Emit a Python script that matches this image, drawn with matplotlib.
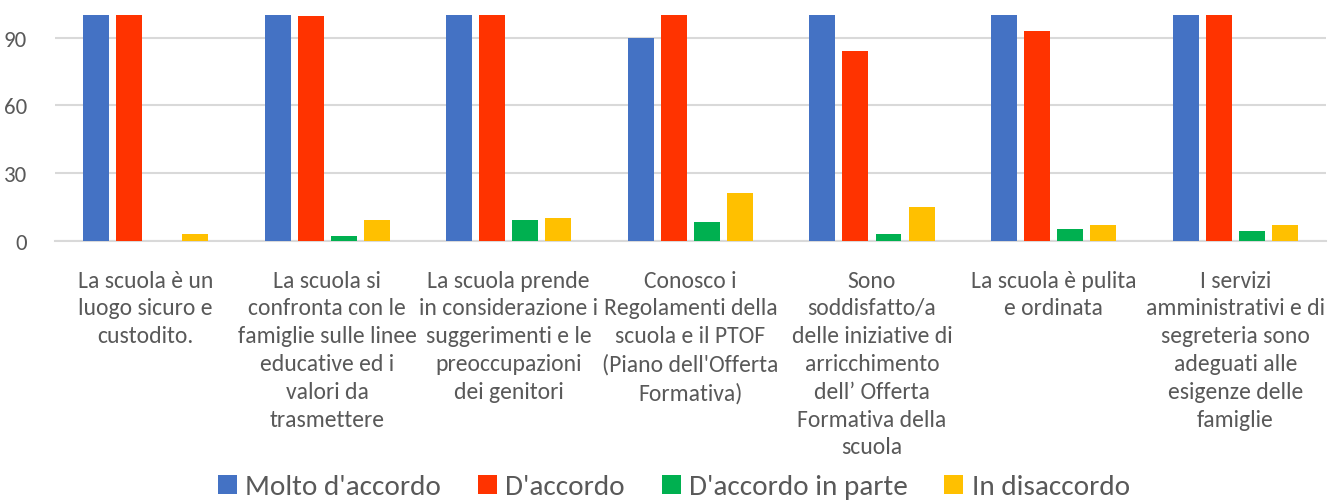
import matplotlib
matplotlib.use("Agg")
import matplotlib.pyplot as plt
import numpy as np
from matplotlib import font_manager

names = {f.name for f in font_manager.fontManager.ttflist}
FONT = "Carlito" if "Carlito" in names else "Lato"
plt.rcParams['font.family'] = [FONT, 'DejaVu Sans']

categories = [
    "La scuola è un\nluogo sicuro e\ncustodito.",
    "La scuola si\nconfronta con le\nfamiglie sulle linee\neducative ed i\nvalori da\ntrasmettere",
    "La scuola prende\nin considerazione i\nsuggerimenti e le\npreoccupazioni\ndei genitori",
    "Conosco i\nRegolamenti della\nscuola e il PTOF\n(Piano dell'Offerta\nFormativa)",
    "Sono\nsoddisfatto/a\ndelle iniziative di\narricchimento\ndell’ Offerta\nFormativa della\nscuola",
    "La scuola è pulita\ne ordinata",
    "I servizi\namministrativi e di\nsegreteria sono\nadeguati alle\nesigenze delle\nfamiglie",
]
series_names = ["Molto d'accordo", "D'accordo", "D'accordo in parte", "In disaccordo"]
molto = [100, 100, 100, 90, 100, 100, 100]
accordo = [100, 99.6, 100, 100, 84, 93, 100]
parte = [0, 2, 9, 8, 3, 5, 4]
disaccordo = [3, 9, 10, 21, 15, 7, 7]
series = [molto, accordo, parte, disaccordo]
colors = ["#4472C4", "#FF3300", "#00B050", "#FFC000"]
yticks = [0, 30, 60, 90]

W, H = 1342, 502
fig = plt.figure(figsize=(W/100, H/100), dpi=100)
ax = fig.add_axes([54.7/W, 1-241.5/H, (1326-54.7)/W, (241.5-16)/H])

x = np.arange(len(categories))
pitch = 0.182
bw = 0.143
for i, (vals, c, n) in enumerate(zip(series, colors, series_names)):
    ax.bar(x + (i-1.5)*pitch, vals, width=bw, color=c, label=n, zorder=3)

ax.set_xlim(-0.5, len(categories)-0.5)
ax.set_ylim(0, 100.2)
ax.set_yticks(yticks)
ax.yaxis.grid(True, color="#D9D9D9", linewidth=1.5, zorder=0)
for s in ["top", "right", "left"]:
    ax.spines[s].set_visible(False)
ax.spines["bottom"].set_color("#D9D9D9")
ax.spines["bottom"].set_linewidth(1.5)
ax.tick_params(axis='y', length=0, pad=20, labelsize=16.5, labelcolor="#595959")
ax.tick_params(axis='x', length=0, pad=21, labelsize=17, labelcolor="#595959")
ax.set_xticks(x)
ax.set_xticklabels(categories, linespacing=1.4, va='top')

leg = fig.legend(loc='center', bbox_to_anchor=(674/W, 1-488/H), ncol=4, frameon=False,
                 fontsize=21, handlelength=0.65, handleheight=0.65, handletextpad=0.3,
                 columnspacing=1.25, labelcolor="#595959")

fig.savefig("out.png", dpi=100)
